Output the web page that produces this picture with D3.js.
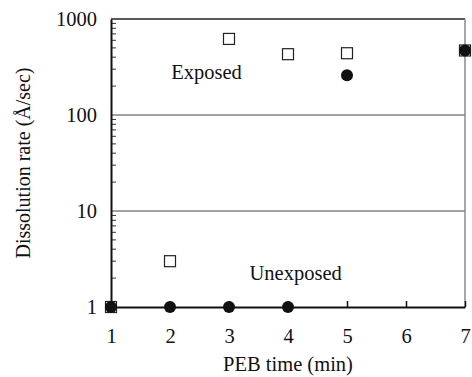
<!DOCTYPE html>
<html>
<head>
<meta charset="utf-8">
<script src="https://cdn.jsdelivr.net/npm/d3@7"></script>
<style>
  body { margin: 0; background: #fff; }
  text { font-family: "Liberation Serif", "Times New Roman", serif; fill: #111; }
</style>
</head>
<body>
<div id="chart"></div>
<script>
const pebTime = [1, 2, 3, 4, 5, 7];
const exposed = [1, 3, 620, 430, 440, 470];
const unexposed = [1, 1, 1, 1, 260, 470];
const xTicks = [1, 2, 3, 4, 5, 6, 7];
const yTicks = [1, 10, 100, 1000];

const width = 472;
const height = 377;
const margin = { top: 19, right: 7, bottom: 70, left: 111 };

const svg = d3.select('#chart')
  .append('svg')
  .attr('width', width)
  .attr('height', height)

const x = d3.scaleLinear()
  .domain([1, 7])
  .range([margin.left, width - margin.right])

const y = d3.scaleLog()
  .domain([1, 1000])
  .range([height - margin.bottom, margin.top])

const x0 = margin.left, x1 = width - margin.right;
const y0 = height - margin.bottom, y1 = margin.top;

// gridlines at 10 and 100
svg.append('g')
  .selectAll('line')
  .data([10, 100])
  .enter()
  .append('line')
  .attr('x1', x0).attr('x2', x1)
  .attr('y1', d => y(d)).attr('y2', d => y(d))
  .style('stroke', '#444')
  .style('stroke-width', 1)

// minor log ticks, pointing inward
const minor = [];
[1, 10, 100].forEach(dec => { for (let k = 2; k <= 9; k++) minor.push(dec * k); });
svg.append('g')
  .selectAll('line')
  .data(minor)
  .enter()
  .append('line')
  .attr('x1', x0).attr('x2', x0 + 5)
  .attr('y1', d => y(d)).attr('y2', d => y(d))
  .style('stroke', '#333')
  .style('stroke-width', 1)

// frame: top black, right gray
svg.append('line')
  .attr('x1', x0).attr('x2', x1).attr('y1', y1).attr('y2', y1)
  .style('stroke', '#222').style('stroke-width', 1.5)
svg.append('line')
  .attr('x1', x1).attr('x2', x1).attr('y1', y1).attr('y2', y0)
  .style('stroke', '#888').style('stroke-width', 1.5)

// x axis with inward ticks
const xAxis = d3.axisBottom(x)
  .tickValues(xTicks)
  .tickSizeInner(-6)
  .tickSizeOuter(0)
  .tickPadding(21)
  .tickFormat(d3.format('d'))

const gx = svg.append('g')
  .attr('transform', `translate(0, ${y0})`)
  .call(xAxis)
gx.select('.domain').style('stroke', '#111').style('stroke-width', 2)
gx.selectAll('.tick line').style('stroke', '#111').style('stroke-width', 1.5)
gx.selectAll('.tick text')
  .style('font-family', '"Liberation Serif", serif')
  .style('font-size', '20.5px')
  .style('fill', '#111')

// y axis
const yAxis = d3.axisLeft(y)
  .tickValues(yTicks)
  .tickSizeInner(0)
  .tickSizeOuter(0)
  .tickPadding(14)
  .tickFormat(d3.format('d'))

const gy = svg.append('g')
  .attr('transform', `translate(${x0}, 0)`)
  .call(yAxis)
gy.select('.domain').style('stroke', '#111').style('stroke-width', 2)
gy.selectAll('.tick text')
  .style('font-family', '"Liberation Serif", serif')
  .style('font-size', '20.5px')
  .style('fill', '#111')

// exposed: open squares
const sq = 11;
svg.append('g')
  .selectAll('rect')
  .data(pebTime.map((t, i) => [t, exposed[i]]))
  .enter()
  .append('rect')
  .attr('x', d => x(d[0]) - sq / 2)
  .attr('y', d => y(d[1]) - sq / 2)
  .attr('width', sq)
  .attr('height', sq)
  .style('fill', '#fff')
  .style('stroke', '#222')
  .style('stroke-width', 1.2)

// unexposed: filled circles
svg.append('g')
  .selectAll('circle')
  .data(pebTime.map((t, i) => [t, unexposed[i]]))
  .enter()
  .append('circle')
  .attr('cx', d => x(d[0]))
  .attr('cy', d => y(d[1]))
  .attr('r', 6)
  .style('fill', '#111')

// labels
svg.append('text')
  .attr('x', x(2.62))
  .attr('y', 79)
  .attr('text-anchor', 'middle')
  .style('font-size', '20.5px')
  .text('Exposed')

svg.append('text')
  .attr('x', x(4.13))
  .attr('y', 280)
  .attr('text-anchor', 'middle')
  .style('font-size', '20.5px')
  .text('Unexposed')

svg.append('text')
  .attr('x', (x0 + x1) / 2)
  .attr('y', 371)
  .attr('text-anchor', 'middle')
  .style('font-size', '20.5px')
  .text('PEB time (min)')

svg.append('text')
  .attr('transform', 'rotate(-90)')
  .attr('x', -(y0 + y1) / 2)
  .attr('y', 30)
  .attr('text-anchor', 'middle')
  .style('font-size', '20px')
  .text('Dissolution rate (Å/sec)')
</script>
</body>
</html>
